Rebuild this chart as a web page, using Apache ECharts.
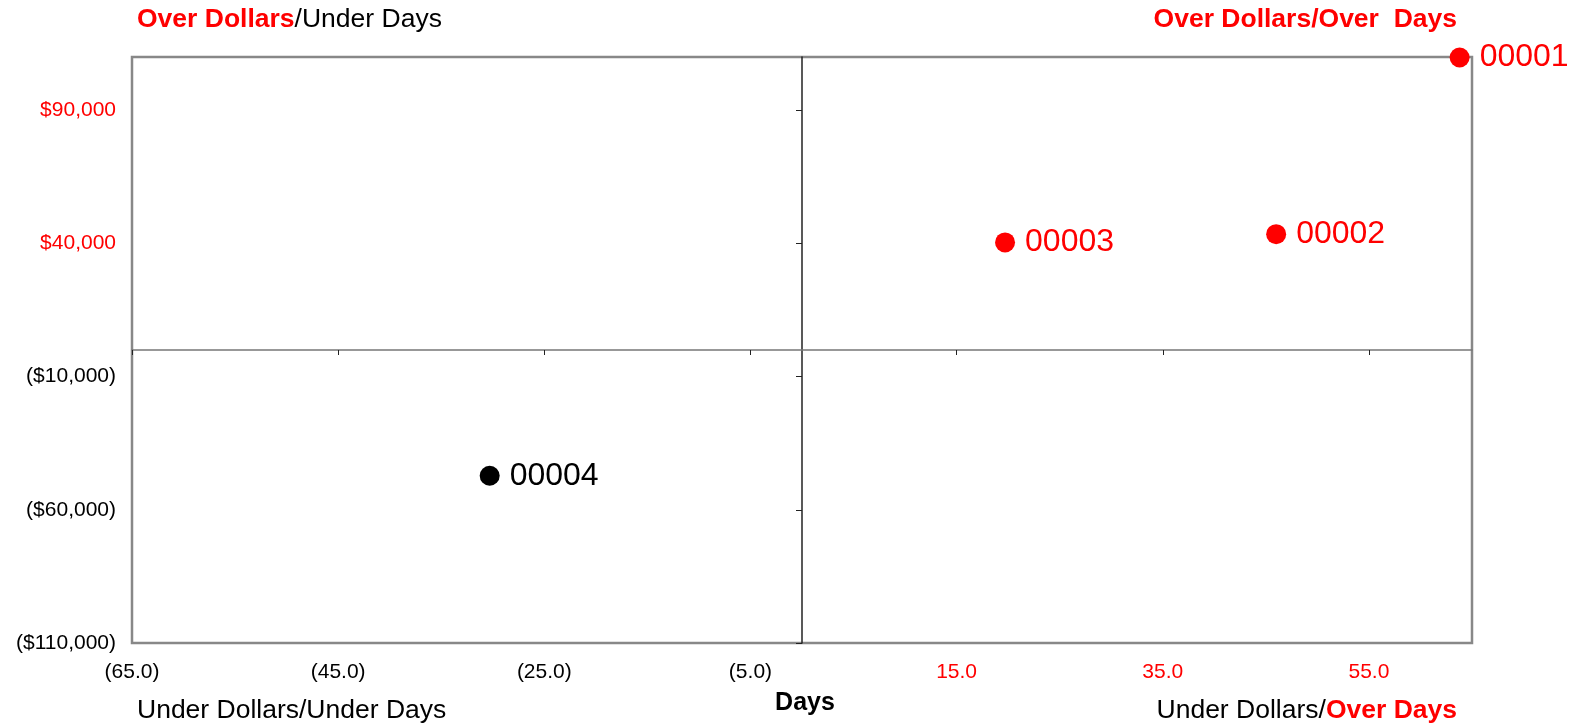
<!DOCTYPE html>
<html>
<head>
<meta charset="utf-8">
<title>Dollars vs Days</title>
<script src="https://cdn.jsdelivr.net/npm/echarts@6/dist/echarts.min.js"></script>
<style>
  html, body { margin: 0; padding: 0; background: #fff; }
  #chart { width: 1577px; height: 728px; }
</style>
</head>
<body>
<div id="chart"></div>
<script>
// Accounts plotted by days variance (x) and dollar variance (y)
const ids = ['00001', '00002', '00003', '00004'];
const days = [63.8, 46.0, 19.7, -30.3];
const dollars = [109800, 43500, 40400, -47200];

// Tick positions for both axes
const dayTicks = [-65, -45, -25, -5, 15, 35, 55];
const dollarTicks = [-110000, -60000, -10000, 40000, 90000];

const RED = '#ff0000';
const BLACK = '#000000';
const FONT = '"Liberation Sans", Arial, Helvetica, sans-serif';

const chart = echarts.init(document.getElementById('chart'), null, { renderer: 'canvas' });

function dayLabel(v) {
  v = Number(v);
  return v < 0 ? '(' + Math.abs(v).toFixed(1) + ')' : v.toFixed(1);
}
function dollarLabel(v) {
  v = Number(v);
  const s = '$' + Math.abs(v).toLocaleString('en-US');
  return v < 0 ? '(' + s + ')' : s;
}

const titleRich = {
  r: { color: RED, fontWeight: 'bold', fontSize: 26.5, fontFamily: FONT, lineHeight: 30 },
  k: { color: BLACK, fontWeight: 'normal', fontSize: 26.5, fontFamily: FONT, lineHeight: 30 }
};

const option = {
  backgroundColor: '#ffffff',
  animation: false,
  title: [
    { text: '{r|Over Dollars}{k|/Under Days}', left: 137, top: 5, padding: 0, textStyle: { rich: titleRich } },
    { text: '{r|Over Dollars/Over  Days}', right: 120, top: 5, padding: 0, textStyle: { rich: titleRich } },
    { text: '{k|Under Dollars/Under Days}', left: 137, top: 696, padding: 0, textStyle: { rich: titleRich } },
    { text: '{k|Under Dollars/}{r|Over Days}', right: 120, top: 696, padding: 0, textStyle: { rich: titleRich } },
    { text: 'Days', left: 805, top: 688, padding: 0, textAlign: 'center',
      textStyle: { color: BLACK, fontWeight: 'bold', fontSize: 25, fontFamily: FONT, lineHeight: 30 } }
  ],
  grid: {
    left: 132, top: 57, width: 1340, height: 586,
    show: true, borderColor: '#888888', borderWidth: 2.5, backgroundColor: '#ffffff'
  },
  xAxis: [
    {
      // labels along the bottom edge
      type: 'value', min: -65, max: 65, position: 'bottom',
      axisLine: { show: false, onZero: false },
      axisTick: { show: false },
      splitLine: { show: false },
      axisLabel: {
        customValues: dayTicks,
        showMinLabel: true, showMaxLabel: true,
        margin: 19, fontSize: 21, fontFamily: FONT,
        formatter: dayLabel,
        color: (v) => (Number(v) < 0 ? BLACK : RED)
      }
    },
    {
      // zero line with ticks
      type: 'value', min: -65, max: 65, position: 'bottom',
      axisLine: { show: true, onZero: true, onZeroAxisIndex: 0, lineStyle: { color: '#777777', width: 1.5 } },
      axisTick: { show: true, customValues: dayTicks, length: 5, lineStyle: { color: '#222222', width: 1 } },
      axisLabel: { show: false },
      splitLine: { show: false }
    }
  ],
  yAxis: [
    {
      type: 'value', min: -110000, max: 110000, position: 'left',
      axisLine: { show: false, onZero: false },
      axisTick: { show: false },
      splitLine: { show: false },
      axisLabel: {
        customValues: dollarTicks,
        showMinLabel: true, showMaxLabel: true,
        margin: 16, fontSize: 21, fontFamily: FONT,
        formatter: dollarLabel,
        color: (v) => (Number(v) < 0 ? BLACK : RED)
      }
    },
    {
      type: 'value', min: -110000, max: 110000, position: 'left',
      axisLine: { show: true, onZero: true, onZeroAxisIndex: 0, lineStyle: { color: '#222222', width: 1.5 } },
      axisTick: { show: true, customValues: dollarTicks, length: 6, lineStyle: { color: '#222222', width: 1 } },
      axisLabel: { show: false },
      splitLine: { show: false }
    }
  ],
  series: [
    {
      type: 'scatter',
      xAxisIndex: 0, yAxisIndex: 0,
      clip: false,
      symbol: 'circle',
      symbolSize: 20,
      z: 5,
      itemStyle: { opacity: 1 },
      data: ids.map((id, i) => {
        const c = dollars[i] > 0 ? RED : BLACK;
        return {
          name: id,
          value: [days[i], dollars[i]],
          itemStyle: { color: c, opacity: 1 },
          label: { color: c }
        };
      }),
      label: {
        show: true, position: 'right', distance: 10,
        formatter: (p) => p.name,
        fontSize: 32, fontFamily: FONT, opacity: 1
      },
      emphasis: { disabled: true }
    }
  ]
};

chart.setOption(option);
</script>
</body>
</html>
